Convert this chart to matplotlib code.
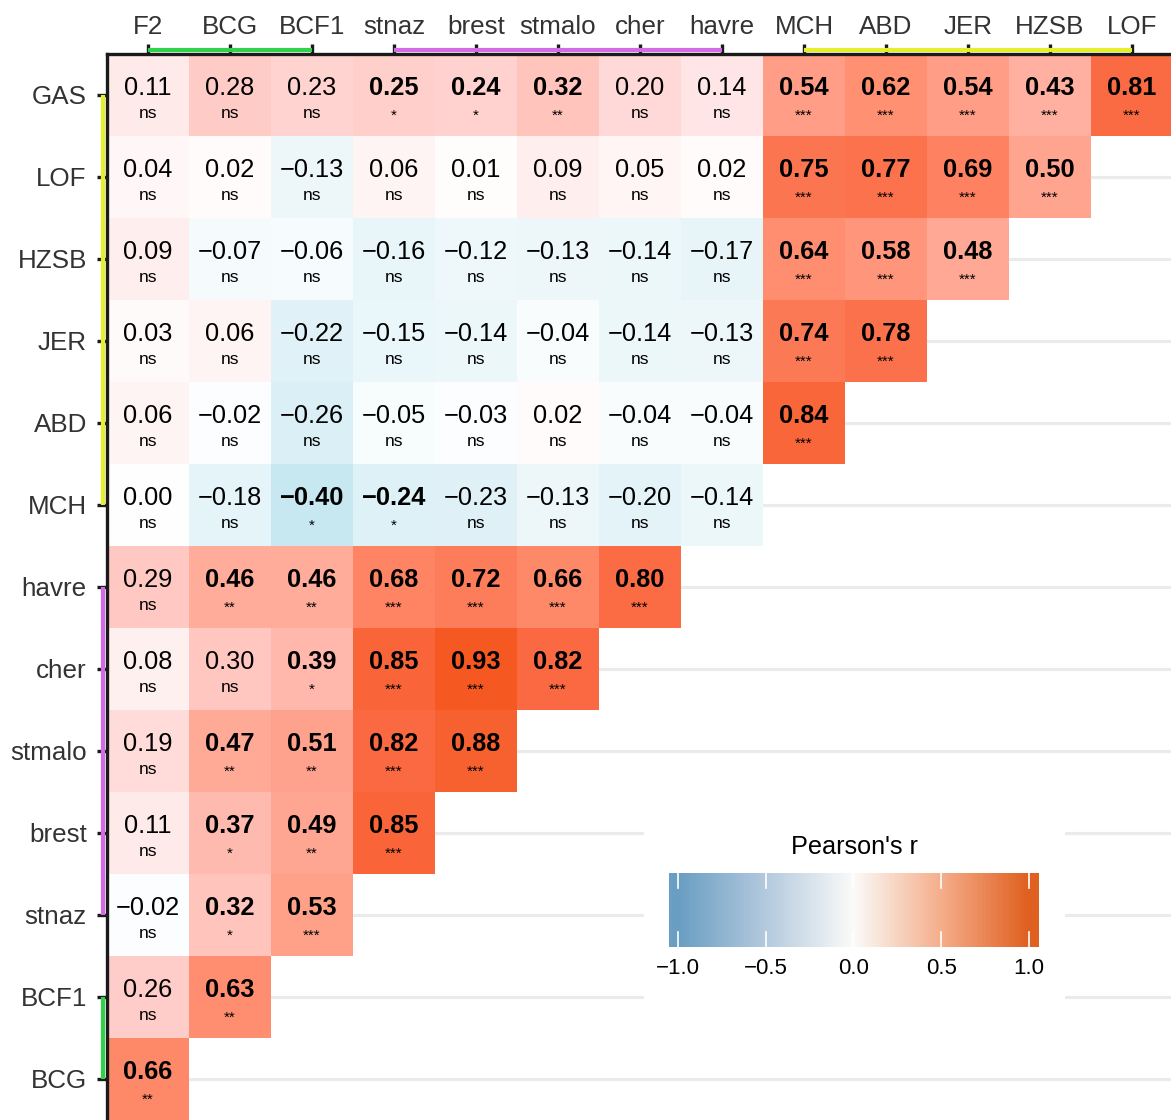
import matplotlib
matplotlib.use("Agg")
import matplotlib.pyplot as plt
import matplotlib.transforms as mtransforms
from matplotlib.colors import LinearSegmentedColormap
from matplotlib.patches import Rectangle
import numpy as np

plt.rcParams['font.family'] = ['Liberation Sans', 'DejaVu Sans']

# column (top) and row (left) variables
cols = ["F2", "BCG", "BCF1", "stnaz", "brest", "stmalo", "cher", "havre",
        "MCH", "ABD", "JER", "HZSB", "LOF"]
rows = ["GAS", "LOF", "HZSB", "JER", "ABD", "MCH", "havre", "cher",
        "stmalo", "brest", "stnaz", "BCF1", "BCG"]

# pearson r per row, left to right (lower triangle)
r_vals = [
    [0.11, 0.28, 0.23, 0.25, 0.24, 0.32, 0.20, 0.14, 0.54, 0.62, 0.54, 0.43, 0.81],
    [0.04, 0.02, -0.13, 0.06, 0.01, 0.09, 0.05, 0.02, 0.75, 0.77, 0.69, 0.50],
    [0.09, -0.07, -0.06, -0.16, -0.12, -0.13, -0.14, -0.17, 0.64, 0.58, 0.48],
    [0.03, 0.06, -0.22, -0.15, -0.14, -0.04, -0.14, -0.13, 0.74, 0.78],
    [0.06, -0.02, -0.26, -0.05, -0.03, 0.02, -0.04, -0.04, 0.84],
    [0.00, -0.18, -0.40, -0.24, -0.23, -0.13, -0.20, -0.14],
    [0.29, 0.46, 0.46, 0.68, 0.72, 0.66, 0.80],
    [0.08, 0.30, 0.39, 0.85, 0.93, 0.82],
    [0.19, 0.47, 0.51, 0.82, 0.88],
    [0.11, 0.37, 0.49, 0.85],
    [-0.02, 0.32, 0.53],
    [0.26, 0.63],
    [0.66],
]
sig = [
    ["ns", "ns", "ns", "*", "*", "**", "ns", "ns", "***", "***", "***", "***", "***"],
    ["ns", "ns", "ns", "ns", "ns", "ns", "ns", "ns", "***", "***", "***", "***"],
    ["ns", "ns", "ns", "ns", "ns", "ns", "ns", "ns", "***", "***", "***"],
    ["ns", "ns", "ns", "ns", "ns", "ns", "ns", "ns", "***", "***"],
    ["ns", "ns", "ns", "ns", "ns", "ns", "ns", "ns", "***"],
    ["ns", "ns", "*", "*", "ns", "ns", "ns", "ns"],
    ["ns", "**", "**", "***", "***", "***", "***"],
    ["ns", "ns", "*", "***", "***", "***"],
    ["ns", "**", "**", "***", "***"],
    ["ns", "*", "**", "***"],
    ["ns", "*", "***"],
    ["ns", "**"],
    ["**"],
]

# groups: (first index, last index, colour)
col_groups = [(0, 2, "#2fd24a"), (3, 7, "#d56ae6"), (8, 12, "#e6f02a")]
row_groups = [(0, 5, "#e6f02a"), (6, 10, "#d56ae6"), (11, 12, "#2fd24a")]

n = len(cols)
mat = np.full((n, n), np.nan)
for i, rv in enumerate(r_vals):
    mat[i, :len(rv)] = rv
mat = np.ma.masked_invalid(mat)

def scale(stops):
    return LinearSegmentedColormap.from_list(
        "s", [((v + 1) / 2, c) for v, c in stops])

cell_cmap = scale([(-1, "#7cc6e0"), (-0.4, "#c8e8f2"), (0, "#ffffff"),
                   (0.11, "#ffebeb"), (0.25, "#ffd0cd"), (0.5, "#ffa591"),
                   (0.66, "#ff8a6a"), (0.81, "#fb6b44"), (0.93, "#f65a22"),
                   (1, "#f04e10")])
bar_cmap = scale([(-1, "#6a9ec3"), (-0.5, "#b4cade"), (0, "#fbfbf9"),
                  (0.5, "#f5ae8b"), (1, "#e06020")])

W, H = 1171, 1120
fig = plt.figure(figsize=(W / 100, H / 100), dpi=100)
left_px, top_px, cell = 107, 54, 82
ax = fig.add_axes([left_px / W, 0, (W - left_px) / W, (H - top_px) / H])
ax.set_facecolor("white")

for i in range(n):
    ax.axhline(i, color="#ebebeb", lw=2.3, zorder=0.5)

ax.imshow(mat, cmap=cell_cmap, vmin=-1, vmax=1, aspect="auto",
          interpolation="nearest", zorder=1)

for i, rv in enumerate(r_vals):
    for j, v in enumerate(rv):
        s = sig[i][j]
        bold = s != "ns"
        txt = ("%.2f" % v).replace("-", "\u2212")
        ax.text(j, i - 0.08, txt, ha="center", va="center", fontsize=18.3,
                fontweight="bold" if bold else "normal", color="black", zorder=3)
        if s == "ns":
            ax.text(j, i + 0.22, s, ha="center", va="center", fontsize=12.5,
                    color="black", zorder=3)
        else:
            ax.text(j, i + 0.25, s, ha="center", va="center", fontsize=11,
                    color="black", zorder=3)

ax.set_xlim(-0.5, -0.5 + (W - left_px) / cell)
ax.set_ylim(-0.5 + (H - top_px) / cell, -0.5)

ax.xaxis.tick_top()
ax.set_xticks(range(n))
ax.set_xticklabels(cols)
ax.set_yticks(range(n))
ax.set_yticklabels(rows)
ax.tick_params(axis="both", length=7.5, width=2.4, color="#1a1a1a",
               labelsize=18.7, labelcolor="#333333", pad=7)
ax.tick_params(axis="x", pad=3.5)
for side in ["right", "bottom"]:
    ax.spines[side].set_visible(False)
for side in ["top", "left"]:
    ax.spines[side].set_linewidth(2.4)
    ax.spines[side].set_color("#1a1a1a")

# group colour strips along the axes
top_tr = mtransforms.offset_copy(
    mtransforms.blended_transform_factory(ax.transData, ax.transAxes),
    fig=fig, y=4.5, units="dots")
for a, b, c in col_groups:
    ax.plot([a, b], [1, 1], color=c, lw=3.0, solid_capstyle="butt",
            transform=top_tr, clip_on=False, zorder=4)
left_tr = mtransforms.offset_copy(
    mtransforms.blended_transform_factory(ax.transAxes, ax.transData),
    fig=fig, x=-4.5, units="dots")
for a, b, c in row_groups:
    ax.plot([0, 0], [a, b], color=c, lw=3.0, solid_capstyle="butt",
            transform=left_tr, clip_on=False, zorder=4)

# legend box with colour bar
fig.patches.append(Rectangle((644 / W, 1 - 1008 / H), (1065 - 644) / W,
                             (1008 - 822) / H, transform=fig.transFigure,
                             facecolor="white", edgecolor="none", zorder=1))
fig.text(854 / W, 1 - 847 / H, "Pearson's r", ha="center", va="center",
         fontsize=18.2, color="black", zorder=3)
cax = fig.add_axes([669 / W, 1 - 947 / H, (1039 - 669) / W, (947 - 873) / H])
cax.set_zorder(2)
lo, hi = -1.051, 1.057
grad = np.linspace(lo, hi, 400).reshape(1, -1)
cax.imshow(grad, cmap=bar_cmap, vmin=-1, vmax=1, aspect="auto",
           extent=[lo, hi, 0, 1])
ticks = [-1.0, -0.5, 0.0, 0.5, 1.0]
for t in ticks:
    cax.plot([t, t], [0, 0.2], color="white", lw=1.2)
    cax.plot([t, t], [0.8, 1], color="white", lw=1.2)
cax.set_xlim(lo, hi)
cax.set_ylim(0, 1)
cax.set_xticks(ticks)
cax.set_xticklabels([("%.1f" % t).replace("-", "\u2212") for t in ticks])
cax.set_yticks([])
cax.tick_params(axis="x", length=0, labelsize=16, labelcolor="black", pad=8)
for sp in cax.spines.values():
    sp.set_visible(False)

fig.savefig("out.png", dpi=100)
